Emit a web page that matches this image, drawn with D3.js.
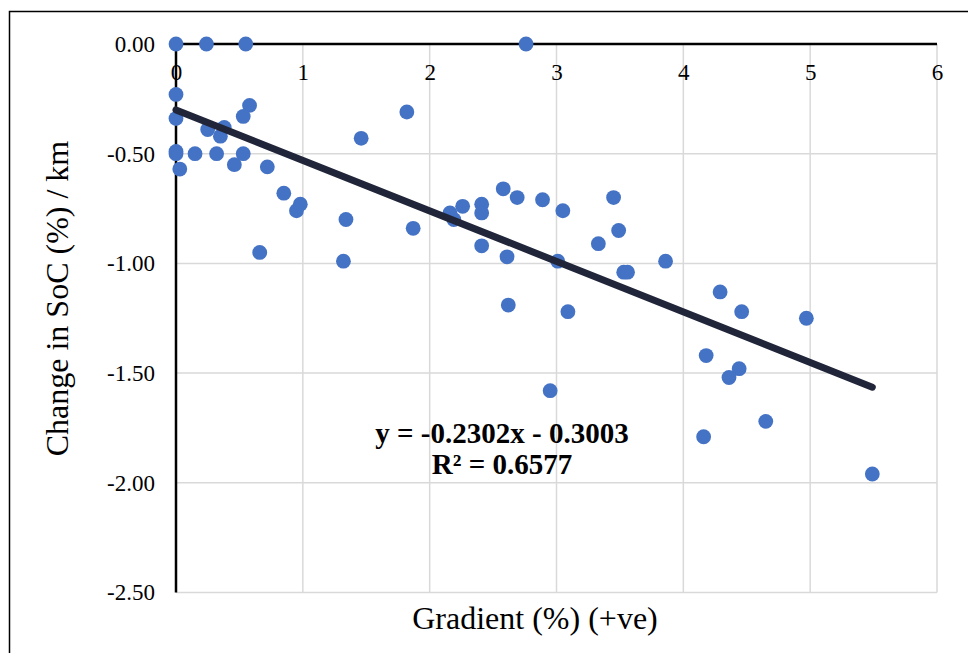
<!DOCTYPE html>
<html>
<head>
<meta charset="utf-8">
<script src="https://cdn.jsdelivr.net/npm/d3@7"></script>
<style>
  html, body { margin: 0; padding: 0; background: #fff; }
  svg { display: block; }
  #chart text { font-family: 'Liberation Serif', 'Times New Roman', Times, serif; fill: #000; }
  #chart .tick text { font-size: 23px; }
</style>
</head>
<body>
<svg id="chart" width="968" height="653"></svg>
<script>
// Data
const gradient = [0, 0.24, 0.55, 2.76, 0, 0.58, 0, 0.53, 0.38, 0.25, 0.35, 1.46, 1.82, 0, 0, 0.15, 0.32, 0.53, 0.46, 0.03,
  0.72, 0.85, 0.98, 0.95, 1.34, 1.87, 0.66, 1.32, 2.16, 2.19, 2.26, 2.41, 2.41, 2.58, 2.69, 2.89, 3.05, 2.41, 2.61, 3.01,
  2.62, 3.09, 3.45, 3.49, 3.33, 3.53, 3.56, 3.86, 2.95, 4.29, 4.46, 4.97, 4.18, 4.44, 4.36, 4.65, 4.16, 5.49];
const socChange = [0, 0, 0, 0, -0.23, -0.28, -0.34, -0.33, -0.38, -0.39, -0.42, -0.43, -0.31, -0.49, -0.50, -0.50, -0.50, -0.50, -0.55, -0.57,
  -0.56, -0.68, -0.73, -0.76, -0.80, -0.84, -0.95, -0.99, -0.77, -0.80, -0.74, -0.73, -0.77, -0.66, -0.70, -0.71, -0.76, -0.92, -0.97, -0.99,
  -1.19, -1.22, -0.70, -0.85, -0.91, -1.04, -1.04, -0.99, -1.58, -1.13, -1.22, -1.25, -1.42, -1.48, -1.52, -1.72, -1.79, -1.96];
const xTicks = [0, 1, 2, 3, 4, 5, 6];
const yTicks = [0, -0.5, -1.0, -1.5, -2.0, -2.5];
const trendSlope = -0.2302;
const trendIntercept = -0.3003;
const trendRange = [0, 5.49];
const equationLines = ["y = -0.2302x - 0.3003", "R\u00B2 = 0.6577"];
const xTitle = "Gradient (%) (+ve)";
const yTitle = "Change in SoC (%) / km";

const points = gradient.map((g, i) => ({ x: g, y: socChange[i] }));

const svg = d3.select("#chart");

const plotLeft = 176, plotTop = 44, plotRight = 937, plotBottom = 592.5;
const x = d3.scaleLinear().domain([0, 6]).range([plotLeft, plotRight]);
const y = d3.scaleLinear().domain([0, -2.5]).range([plotTop, plotBottom]);

// Outer frame
svg.append("rect")
  .attr("x", 9.5).attr("y", 11.5).attr("width", 1000).attr("height", 700)
  .attr("fill", "none").attr("stroke", "#000").attr("stroke-width", 1.5);

// Gridlines
const grid = svg.append("g").attr("stroke", "#d9d9d9").attr("stroke-width", 1.5);
grid.selectAll("line.v").data(xTicks.filter(d => d !== 0)).join("line").attr("class", "v")
  .attr("x1", d => x(d)).attr("x2", d => x(d))
  .attr("y1", y(0)).attr("y2", y(-2.5));
grid.selectAll("line.h").data(yTicks.filter(d => d !== 0)).join("line").attr("class", "h")
  .attr("x1", x(0)).attr("x2", x(6))
  .attr("y1", d => y(d)).attr("y2", d => y(d));

// Axes
const xAxis = svg.append("g")
  .attr("transform", `translate(0,${y(0)})`)
  .call(d3.axisBottom(x).tickValues(xTicks).tickSize(0).tickPadding(20).tickFormat(d => String(d)));
xAxis.attr("font-family", null).attr("font-size", null);
xAxis.select(".domain").attr("stroke", "#000").attr("stroke-width", 2.5).attr("d", `M${x(0)},0H${x(6)}`);

const yAxis = svg.append("g")
  .attr("transform", `translate(${x(0)},0)`)
  .call(d3.axisLeft(y).tickValues(yTicks).tickSize(0).tickPadding(21).tickFormat(d => d.toFixed(2)));
yAxis.attr("font-family", null).attr("font-size", null);
yAxis.select(".domain").attr("stroke", "#000").attr("stroke-width", 2.5).attr("d", `M0,${y(0)}V${y(-2.5)}`);

// Points
svg.append("g").selectAll("circle").data(points).join("circle")
  .attr("cx", d => x(d.x)).attr("cy", d => y(d.y))
  .attr("r", 7.4).attr("fill", "#4472C4");

// Trendline
svg.append("line")
  .attr("x1", x(trendRange[0])).attr("y1", y(trendSlope * trendRange[0] + trendIntercept))
  .attr("x2", x(trendRange[1])).attr("y2", y(trendSlope * trendRange[1] + trendIntercept))
  .attr("stroke", "#212539").attr("stroke-width", 7).attr("stroke-linecap", "round");

// Equation
svg.append("g").selectAll("text").data(equationLines).join("text")
  .attr("x", 502).attr("y", (d, i) => 443 + i * 31)
  .attr("text-anchor", "middle")
  .style("font-size", "29px").style("font-weight", "bold")
  .text(d => d);

// Axis titles
svg.append("text")
  .attr("x", 535).attr("y", 629)
  .attr("text-anchor", "middle")
  .style("font-size", "32px")
  .text(xTitle);

svg.append("text")
  .attr("transform", "translate(68,298.5) rotate(-90)")
  .attr("text-anchor", "middle")
  .style("font-size", "32px")
  .text(yTitle);
</script>
</body>
</html>
